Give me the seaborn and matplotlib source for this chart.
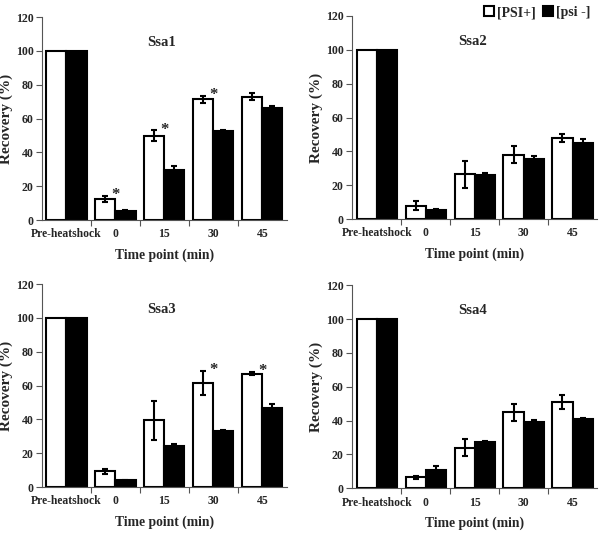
import pandas as pd
import matplotlib
matplotlib.use("Agg")
import matplotlib.pyplot as plt
from matplotlib.patches import Patch
import seaborn as sns

# ---- data ----
timepoints = ["Pre-heatshock", "0", "15", "30", "45"]
strains = ["[PSI+]", "[psi -]"]
panels = ["Ssa1", "Ssa2", "Ssa3", "Ssa4"]

ssa1_psi_pos = [100, 12.5, 50, 71.5, 73]
ssa1_psi_pos_err = [0, 2, 3, 2, 2]
ssa1_psi_neg = [100, 5.5, 29.5, 52.5, 66]
ssa1_psi_neg_err = [0, 0.5, 2.5, 1, 1.5]
ssa1_stars = [1, 2, 3]

ssa2_psi_pos = [100, 8, 26.5, 38, 48]
ssa2_psi_pos_err = [0, 2.5, 8, 5, 2.5]
ssa2_psi_neg = [100, 5.5, 26, 35.5, 45]
ssa2_psi_neg_err = [0, 0.5, 1, 2, 2.5]
ssa2_stars = []

ssa3_psi_pos = [100, 9.5, 39.5, 61.5, 67]
ssa3_psi_pos_err = [0, 1.5, 11.5, 7, 1]
ssa3_psi_neg = [100, 4, 24.5, 33, 46.5]
ssa3_psi_neg_err = [0, 0.5, 1, 1, 2.5]
ssa3_stars = [3, 4]

ssa4_psi_pos = [100, 6.5, 24, 45, 51]
ssa4_psi_pos_err = [0, 1, 5, 5, 4]
ssa4_psi_neg = [100, 11, 27.5, 39, 41]
ssa4_psi_neg_err = [0, 2, 0.5, 1.5, 0.5]
ssa4_stars = []

panel_data = {
    "Ssa1": (ssa1_psi_pos, ssa1_psi_pos_err, ssa1_psi_neg, ssa1_psi_neg_err, ssa1_stars),
    "Ssa2": (ssa2_psi_pos, ssa2_psi_pos_err, ssa2_psi_neg, ssa2_psi_neg_err, ssa2_stars),
    "Ssa3": (ssa3_psi_pos, ssa3_psi_pos_err, ssa3_psi_neg, ssa3_psi_neg_err, ssa3_stars),
    "Ssa4": (ssa4_psi_pos, ssa4_psi_pos_err, ssa4_psi_neg, ssa4_psi_neg_err, ssa4_stars),
}

sns.set_style("ticks")
plt.rcParams["font.family"] = ["Liberation Serif", "DejaVu Serif"]
plt.rcParams["font.weight"] = "bold"
plt.rcParams["axes.labelweight"] = "bold"

fig = plt.figure(figsize=(6.0, 5.33), dpi=100)
positions = {
    "Ssa1": [0.070, 0.587, 0.408, 0.381],
    "Ssa2": [0.587, 0.589, 0.408, 0.381],
    "Ssa3": [0.070, 0.086, 0.408, 0.381],
    "Ssa4": [0.587, 0.084, 0.408, 0.381],
}

for name in panels:
    pos, pos_err, neg, neg_err, stars = panel_data[name]
    df = pd.DataFrame({
        "time": timepoints * 2,
        "strain": [strains[0]] * 5 + [strains[1]] * 5,
        "value": pos + neg,
    })
    ax = fig.add_axes(positions[name])
    sns.barplot(data=df, x="time", y="value", hue="strain", order=timepoints,
                hue_order=strains, palette=["white", "black"], edgecolor="black",
                linewidth=1.5, width=0.82, errorbar=None, legend=False, ax=ax)

    bars = ax.patches
    errs = pos_err + neg_err
    for b, e in zip(bars, errs):
        if e > 0:
            cx = b.get_x() + b.get_width() / 2
            ax.errorbar(cx, b.get_height(), yerr=e, fmt="none", ecolor="black",
                        elinewidth=1.5, capsize=2.4, capthick=1.5)
    # significance stars next to the [PSI+] bars
    for i in stars:
        b = bars[i]
        ax.text(b.get_x() + b.get_width(), b.get_height() + pos_err[i] + 0.5, "*",
                fontsize=12, fontweight="bold", ha="center", va="center")

    ax.text(1.95, 101, name, fontsize=10.5, fontweight="bold", ha="center", va="bottom")

    ax.set_xlim(-0.5, 4.5)
    ax.set_ylim(0, 120)
    ax.set_yticks(range(0, 121, 20))
    ax.set_xticks([0.5, 1.5, 2.5, 3.5], minor=True)
    ax.tick_params(axis="x", which="major", length=0, labelsize=8.4, pad=6)
    ax.tick_params(axis="x", which="minor", length=4, width=0.8, color="#555555")
    ax.tick_params(axis="y", length=4, width=0.8, color="#555555", labelsize=8.6, pad=2)
    for lab in ax.get_xticklabels() + ax.get_yticklabels():
        lab.set_fontweight("bold")
    ax.set_xlabel("Time point (min)", fontsize=9.8, fontweight="bold", labelpad=6)
    ax.set_ylabel("Recovery (%)", fontsize=11, fontweight="bold")
    ax.yaxis.set_label_coords(-0.118, 0.5)
    for side in ["top", "right"]:
        ax.spines[side].set_visible(False)
    for side in ["left", "bottom"]:
        ax.spines[side].set_color("#555555")
        ax.spines[side].set_linewidth(0.8)

handles = [Patch(facecolor="white", edgecolor="black", linewidth=1.5, label=strains[0]),
           Patch(facecolor="black", edgecolor="black", linewidth=1.5, label=strains[1])]
fig.legend(handles=handles, loc="upper right", bbox_to_anchor=(1.005, 1.012), ncol=2,
           frameon=False, handlelength=0.7, handleheight=0.7, handletextpad=0.25,
           columnspacing=0.5, prop={"weight": "bold", "size": 10})

fig.savefig("out.png", dpi=100)
